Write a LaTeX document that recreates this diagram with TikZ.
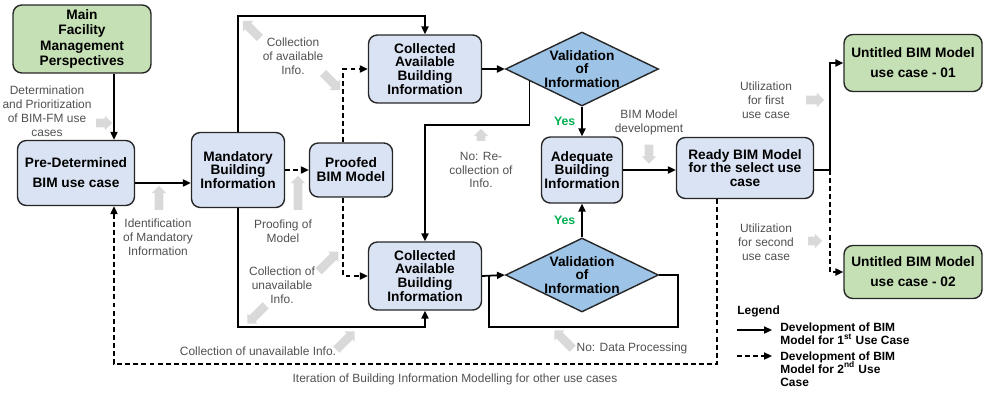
\documentclass[tikz,border=0pt]{standalone}
\usepackage{fontspec}
\setmainfont{Liberation Sans}
\usetikzlibrary{arrows.meta,shapes.geometric,shapes.arrows,calc}
\definecolor{boxblue}{HTML}{DAE3F3}
\definecolor{boxgreen}{HTML}{C5E0B4}
\definecolor{valblue}{HTML}{9DC3E6}
\definecolor{arrgray}{HTML}{D9D9D9}
\definecolor{notegray}{HTML}{505050}
\definecolor{yesgreen}{HTML}{00B050}
\newcommand\supx[1]{\smash{\textsuperscript{#1}}}

\begin{document}
\begin{tikzpicture}[x=0.02cm,y=-0.02cm,
	box/.style={draw=black!85,line width=0.8pt,rounded corners=5pt,fill=boxblue,align=center,inner sep=0pt,font=\fontsize{7.8}{7.9}\selectfont\bfseries},
	greenbox/.style={box,fill=boxgreen},
	valid/.style={diamond,draw=black!85,line width=0.8pt,fill=valblue,aspect=2.07,inner sep=-1pt,minimum width=3.06cm,minimum height=1.48cm,align=center,font=\fontsize{7.8}{7.9}\selectfont\bfseries},
	flow/.style={line width=1pt,-{Triangle[length=4.5pt,width=4pt]}},
	dflow/.style={flow,dash pattern=on 2.8pt off 1.8pt},
	note/.style={text=notegray,align=center,font=\fontsize{6.8}{7.9}\selectfont},
	legtext/.style={align=left,anchor=west,inner sep=0pt,font=\fontsize{6.8}{7.4}\selectfont\bfseries},
	garr/.style={single arrow,fill=arrgray,inner xsep=0pt,inner ysep=0.08cm,minimum width=0pt,single arrow head extend=0.06cm,minimum height=#1},
	yes/.style={text=yesgreen,font=\fontsize{7}{8}\selectfont\bfseries}]

	\useasboundingbox (0,0) rectangle (983,392);

	\node[greenbox,minimum width=2.76cm,minimum height=1.36cm] (main) at (82,39) {Main\\[0.9pt]Facility\\[0.9pt]Management\\[0.9pt]Perspectives};
	\node[box,minimum width=2.34cm,minimum height=1.3cm] (predet) at (76,173) {Pre-Determined\\[3.4pt]BIM use case};
	\node[box,minimum width=1.86cm,minimum height=1.5cm] (mand) at (238,170) {Mandatory\\Building\\Information};
	\node[box,minimum width=1.66cm,minimum height=1.08cm] (proof) at (351,170) {Proofed\\BIM Model};
	\node[box,minimum width=2.26cm,minimum height=1.36cm] (cola) at (425,69) {Collected\\Available\\Building\\Information};
	\node[valid] (vala) at (582,69) {Validation\\of\\Information};
	\node[box,minimum width=1.62cm,minimum height=1.32cm] (adeq) at (582,170) {Adequate\\Building\\Information};
	\node[box,minimum width=2.74cm,minimum height=1.22cm] (ready) at (745,168) {Ready BIM Model\\for the select use\\case};
	\node[greenbox,minimum width=2.76cm,minimum height=1.14cm] (ucone) at (913,63) {Untitled BIM Model\\[3.4pt]use case - 01};
	\node[greenbox,minimum width=2.76cm,minimum height=1.06cm] (uctwo) at (913,272) {Untitled BIM Model\\[3.4pt]use case - 02};
	\node[box,minimum width=2.26cm,minimum height=1.36cm] (colb) at (425,276) {Collected\\Available\\Building\\Information};
	\node[valid] (valb) at (582,275) {Validation\\of\\Information};

	\coordinate (nore) at ($(vala.west)!0.32!(vala.south)$);
	\coordinate (split) at (830,170);

	\draw[flow] (main.south -| 114,0) -- (predet.north -| 114,0);
	\draw[flow] (predet.east |- 0,183) -- (mand.west |- 0,183);
	\draw[dflow] (mand.east) -- (proof.west);
	\draw[flow] (mand.north) -- (mand.north |- 0,16) -| (cola.north);
	\draw[flow] (mand.south) -- (mand.south |- 0,327) -| (colb.south);
	\draw[dflow] (proof.north -| 343,0) |- (cola.west);
	\draw[dflow] (proof.south -| 343,0) |- (colb.west);
	\draw[flow] (cola.east) -- (vala.west);
	\draw[flow] (vala.south) -- (adeq.north) node[yes,midway,left] {Yes};
	\draw[flow] (nore) -- (nore |- 0,125) -| (colb.north);
	\draw[flow] (colb.east) -- (valb.west);
	\draw[line width=1pt] (valb.east) -| (678,327) -| (colb.east -| 489,0);
	\draw[flow] (valb.north) -- (adeq.south) node[yes,midway,left] {Yes};
	\draw[flow] (adeq.east) -- (ready.west |- adeq.east);
	\draw[flow] (ready.east |- split) -- (split) |- (ucone.west);
	\draw[dflow] (split) |- (uctwo.west);
	\draw[dflow] (ready.south -| 717,0) -- (717,364) -| (predet.south -| 114,0);

	\node[note] (tdet) at (47,111) {Determination\\and Prioritization\\of BIM-FM use\\cases};
	\node[note] (tca) at (293,56) {Collection\\of available\\Info.};
	\node[note] (tid) at (158,237) {Identification\\of Mandatory\\Information};
	\node[note] (tpr) at (283,231) {Proofing of\\Model};
	\node[note] (tcu) at (282,285) {Collection of\\unavailable\\Info.};
	\node[note] (tnr) at (481,170) {No: Re-\\collection of\\Info.};
	\node[note] (tbd) at (649,122) {BIM Model\\development};
	\node[note] (tuone) at (766,100) {Utilization\\for first\\use case};
	\node[note] (tutwo) at (766,242) {Utilization\\for second\\use case};
	\node[note] (tcb) at (258,351) {Collection of unavailable Info.};
	\node[note] (tdp) at (632,348) {No: Data Processing};
	\node[note] (tit) at (455,379) {Iteration of Building Information Modelling for other use cases};

	\node[garr=0.32cm] (gdet) at (102,123) {};
	\node[garr=0.48cm,rotate=135] (gcaone) at (253,31) {};
	\node[garr=0.48cm,rotate=-45] (gcatwo) at (330,80) {};
	\node[garr=0.48cm,rotate=90] (gid) at (159,200) {};
	\node[garr=0.68cm,rotate=90] (gpr) at (298,195) {};
	\node[garr=0.56cm,rotate=45] (gcuone) at (327,263) {};
	\node[garr=0.52cm,rotate=-135] (gcutwo) at (258,313) {};
	\node[garr=0.24cm,rotate=90] (gnr) at (481,137) {};
	\node[garr=0.38cm,rotate=-90] (gbd) at (649,152) {};
	\node[garr=0.36cm] (guone) at (813,100) {};
	\node[garr=0.28cm] (gutwo) at (813,241) {};
	\node[garr=0.52cm,rotate=45] (gcb) at (344,342) {};
	\node[garr=0.52cm,rotate=135] (gdp) at (565,341) {};

	\node[legtext] (leg) at (737,311) {Legend};
	\coordinate (laone) at (737,330);
	\coordinate (lbone) at (772,330);
	\coordinate (latwo) at (737,356);
	\coordinate (lbtwo) at (772,356);
	\draw[flow] (laone) -- (lbone);
	\draw[dflow] (latwo) -- (lbtwo);
	\node[legtext] (legone) at (780,334) {Development of BIM\\Model for 1\supx{st} Use Case};
	\node[legtext] (legtwo) at (780,369) {Development of BIM\\Model for 2\supx{nd} Use\\Case};

\end{tikzpicture}
\end{document}
